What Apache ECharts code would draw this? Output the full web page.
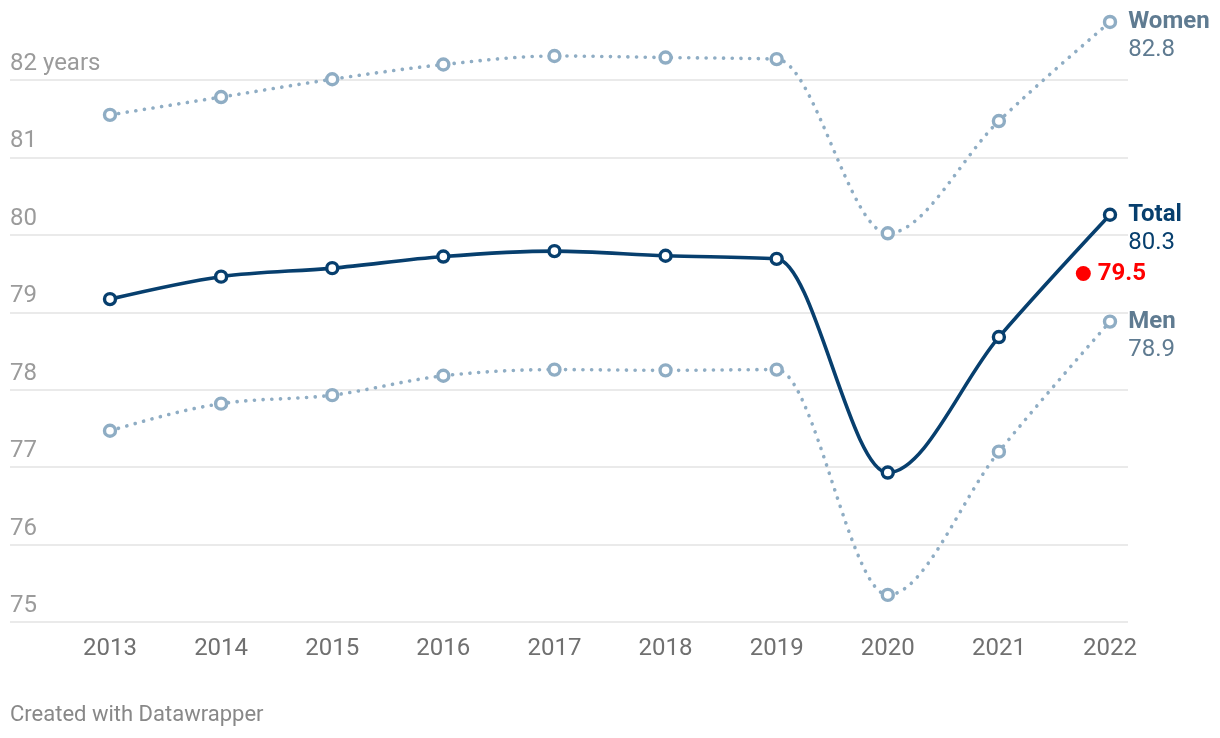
<!DOCTYPE html>
<html>
<head>
<meta charset="utf-8">
<script src="https://cdn.jsdelivr.net/npm/echarts@6/dist/echarts.min.js"></script>
<style>
html,body{margin:0;padding:0;background:#fff;}
#chart{width:1220px;height:738px;}
</style>
</head>
<body>
<div id="chart"></div>
<script>
const years = [2013, 2014, 2015, 2016, 2017, 2018, 2019, 2020, 2021, 2022];
const women = [81.55, 81.78, 82.01, 82.2, 82.31, 82.29, 82.27, 80.02, 81.47, 82.75];
const total = [79.17, 79.46, 79.57, 79.72, 79.79, 79.73, 79.69, 76.93, 78.68, 80.26];
const men = [77.47, 77.82, 77.93, 78.18, 78.26, 78.25, 78.26, 75.35, 77.2, 78.88];
const yTicks = [75, 76, 77, 78, 79, 80, 81, 82];
const refPoint = [2021.76, 79.5];
const refLabel = '79.5';

const FONT = 'Roboto';
const FS = 24;
const C_TOTAL = '#073f6e';
const C_LIGHT = '#8fadc4';
const C_LIGHT_TXT = '#5f7b91';

function pairs(vals) { return years.map((y, i) => [y, vals[i]]); }

// monotone-x cubic path through points given in pixel coords (curve shape only)
function monotonePath(pts) {
  const n = pts.length;
  if (n < 2) return '';
  const sgn = v => v < 0 ? -1 : 1;
  const t = new Array(n);
  for (let i = 1; i < n - 1; i++) {
    const h0 = pts[i][0] - pts[i - 1][0], h1 = pts[i + 1][0] - pts[i][0];
    const s0 = (pts[i][1] - pts[i - 1][1]) / h0, s1 = (pts[i + 1][1] - pts[i][1]) / h1;
    const p = (s0 * h1 + s1 * h0) / (h0 + h1);
    t[i] = (sgn(s0) + sgn(s1)) * Math.min(Math.abs(s0), Math.abs(s1), 0.5 * Math.abs(p)) || 0;
  }
  const h0 = pts[1][0] - pts[0][0];
  t[0] = n > 2 ? (3 * (pts[1][1] - pts[0][1]) / h0 - t[1]) / 2 : (pts[1][1] - pts[0][1]) / h0;
  const hl = pts[n - 1][0] - pts[n - 2][0];
  t[n - 1] = n > 2 ? (3 * (pts[n - 1][1] - pts[n - 2][1]) / hl - t[n - 2]) / 2 : (pts[n - 1][1] - pts[n - 2][1]) / hl;
  let d = 'M' + pts[0][0] + ' ' + pts[0][1];
  for (let i = 0; i < n - 1; i++) {
    const [x0, y0] = pts[i], [x1, y1] = pts[i + 1];
    const dx = (x1 - x0) / 3;
    d += ' C' + (x0 + dx) + ' ' + (y0 + dx * t[i]) + ' ' + (x1 - dx) + ' ' + (y1 - dx * t[i + 1]) + ' ' + x1 + ' ' + y1;
  }
  return d;
}

function curveSeries(vals, color, dotted, z) {
  return {
    type: 'custom',
    data: pairs(vals),
    clip: false,
    z: z,
    silent: true,
    renderItem: function (params, api) {
      if (params.dataIndex !== 0) return null;
      const pts = pairs(vals).map(p => api.coord(p));
      return {
        type: 'path',
        shape: { pathData: monotonePath(pts) },
        style: dotted
          ? { fill: 'none', stroke: color, lineWidth: 3.6, lineDash: [0.1, 8.6], lineCap: 'round' }
          : { fill: 'none', stroke: color, lineWidth: 3.6, lineCap: 'round', lineJoin: 'round' }
      };
    }
  };
}

function endLabel(name, color) {
  return {
    show: true,
    position: 'right',
    distance: 11,
    offset: [0, 14],
    formatter: p => p.dataIndex === years.length - 1 ? '{b|' + name + '}\n{v|' + p.value[1].toFixed(1) + '}' : '',
    rich: {
      b: { fontFamily: FONT, fontWeight: 'bold', fontSize: FS, color: color, lineHeight: 28 },
      v: { fontFamily: FONT, fontSize: FS, color: color, lineHeight: 28 }
    }
  };
}

function markerSeries(name, vals, color, txtColor, z) {
  return {
    name: name,
    type: 'line',
    data: pairs(vals),
    clip: false,
    z: z,
    symbol: 'circle',
    symbolSize: 11,
    itemStyle: { color: '#fff', borderColor: color, borderWidth: 3.4, opacity: 1 },
    lineStyle: { opacity: 0 },
    label: endLabel(name, txtColor),
    emphasis: { disabled: true }
  };
}

const chart = echarts.init(document.getElementById('chart'), null, { renderer: 'canvas' });
chart.setOption({
  animation: false,
  backgroundColor: '#fff',
  grid: { left: 10, right: 92, top: 80, bottom: 116, containLabel: false },
  xAxis: {
    type: 'value',
    min: 2012.1,
    max: 2022.162,
    axisLine: { show: false },
    axisTick: { show: false },
    splitLine: { show: false },
    axisLabel: {
      customValues: years,
      formatter: v => String(v),
      fontFamily: FONT,
      fontSize: FS,
      color: '#707070',
      margin: 15
    }
  },
  yAxis: {
    type: 'value',
    min: 75,
    max: 82,
    interval: 1,
    axisLine: { show: false },
    axisTick: { show: false },
    splitLine: { show: true, lineStyle: { color: '#e3e3e3', width: 1.5 } },
    axisLabel: {
      inside: true,
      verticalAlign: 'bottom',
      margin: 0,
      padding: [0, 0, 4, 0],
      fontFamily: FONT,
      fontSize: FS,
      color: '#9b9b9b',
      formatter: v => v === yTicks[yTicks.length - 1] ? v + ' years' : String(v)
    }
  },
  series: [
    curveSeries(women, C_LIGHT, true, 2),
    curveSeries(men, C_LIGHT, true, 2),
    curveSeries(total, C_TOTAL, false, 3),
    markerSeries('Women', women, C_LIGHT, C_LIGHT_TXT, 4),
    markerSeries('Men', men, C_LIGHT, C_LIGHT_TXT, 4),
    markerSeries('Total', total, C_TOTAL, C_TOTAL, 5),
    {
      type: 'scatter',
      data: [refPoint],
      symbol: 'circle',
      symbolSize: 15,
      clip: false,
      z: 6,
      itemStyle: { color: '#ff0000', opacity: 1 },
      label: {
        show: true,
        position: 'right',
        distance: 7,
        formatter: refLabel,
        fontFamily: FONT,
        fontWeight: 'bold',
        fontSize: FS,
        color: '#ff0000'
      },
      emphasis: { disabled: true }
    }
  ],
  graphic: [
    {
      type: 'text',
      left: 10,
      top: 704,
      style: { text: 'Created with Datawrapper', fontFamily: FONT, fontSize: 22, fill: '#888888' }
    }
  ]
});
</script>
</body>
</html>
